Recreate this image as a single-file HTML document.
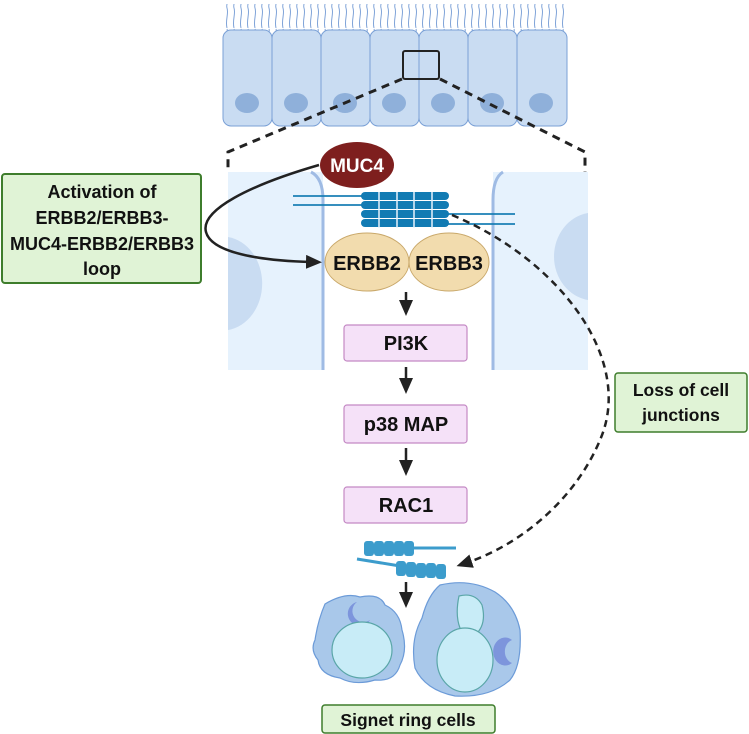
<!DOCTYPE html>
<html><head><style>
body{margin:0;background:#fff;}
svg{display:block;font-family:"Liberation Sans",sans-serif;font-weight:bold;}
</style></head><body>
<svg width="749" height="734" viewBox="0 0 749 734" xmlns="http://www.w3.org/2000/svg">
<defs>
<marker id="ah" markerWidth="16" markerHeight="14" refX="6" refY="7" orient="auto" markerUnits="userSpaceOnUse"><path d="M0,0 L16,7 L0,14 Z" fill="#222"/></marker>
<pattern id="cil" width="7" height="28" patternUnits="userSpaceOnUse"><path d="M3,28 C1,20 5,14 3,8 C2,5 4,3 3,1" stroke="#7fa3d8" stroke-width="1" fill="none"/></pattern>
</defs>
<rect x="223" y="4" width="344" height="28" fill="url(#cil)"/>
<g fill="#c9dcf2" stroke="#7aa0d6" stroke-width="1">
<rect x="223" y="30" width="49" height="96" rx="8"/>
<rect x="272" y="30" width="49" height="96" rx="8"/>
<rect x="321" y="30" width="49" height="96" rx="8"/>
<rect x="370" y="30" width="49" height="96" rx="8"/>
<rect x="419" y="30" width="49" height="96" rx="8"/>
<rect x="468" y="30" width="49" height="96" rx="8"/>
<rect x="517" y="30" width="50" height="96" rx="8"/>
</g>
<g fill="#8fb0da">
<ellipse cx="247" cy="103" rx="12" ry="10"/><ellipse cx="296" cy="103" rx="12" ry="10"/><ellipse cx="345" cy="103" rx="12" ry="10"/><ellipse cx="394" cy="103" rx="12" ry="10"/><ellipse cx="443" cy="103" rx="12" ry="10"/><ellipse cx="492" cy="103" rx="12" ry="10"/><ellipse cx="541" cy="103" rx="12" ry="10"/>
</g>
<rect x="403" y="51" width="36" height="28" fill="none" stroke="#222" stroke-width="2" rx="2"/>
<path d="M402,79 L228,152 L228,172 M440,79 L585,152 L585,172" stroke="#222" stroke-width="3" stroke-dasharray="8,6" fill="none"/>
<rect x="228" y="172" width="95" height="198" fill="#e6f2fd"/>
<rect x="493" y="172" width="95" height="198" fill="#e6f2fd"/>
<path d="M228,237 A40,47 0 0 1 228,330 Z" fill="#c9dcf2"/>
<path d="M588,213 A40,44 0 0 0 588,300 Z" fill="#c9dcf2"/>
<path d="M311,172 Q323,178 323,200 L323,370" stroke="#9fbbe4" stroke-width="3" fill="none"/>
<path d="M503,172 Q493,178 493,200 L493,370" stroke="#9fbbe4" stroke-width="3" fill="none"/>
<g stroke="#1a7fb5" stroke-width="1.8"><line x1="293" y1="196" x2="362" y2="196"/><line x1="293" y1="205" x2="362" y2="205"/><line x1="448" y1="214" x2="515" y2="214"/><line x1="448" y1="224" x2="515" y2="224"/></g>
<g fill="#127bb3">
<rect x="361" y="192" width="88" height="8" rx="4"/><rect x="361" y="201" width="88" height="8" rx="4"/><rect x="361" y="210" width="88" height="8" rx="4"/><rect x="361" y="219" width="88" height="8" rx="4"/>
</g>
<g stroke="#e6f2fd" stroke-width="1.5"><line x1="379" y1="192" x2="379" y2="228"/><line x1="397" y1="192" x2="397" y2="228"/><line x1="414" y1="192" x2="414" y2="228"/><line x1="432" y1="192" x2="432" y2="228"/></g>
<ellipse cx="357" cy="165" rx="37" ry="23" fill="#7e1f1e"/>
<text x="357" y="172" font-size="19" fill="#fff" text-anchor="middle">MUC4</text>
<ellipse cx="367" cy="262" rx="42" ry="29" fill="#f2dcae" stroke="#c9a86a"/>
<ellipse cx="449" cy="262" rx="40" ry="29" fill="#f2dcae" stroke="#c9a86a"/>
<text x="367" y="270" font-size="20" fill="#111" text-anchor="middle">ERBB2</text>
<text x="449" y="270" font-size="20" fill="#111" text-anchor="middle">ERBB3</text>
<path d="M319,165 C250,185 200,210 206,232 C212,255 270,261 312,262" stroke="#222" stroke-width="2.5" fill="none" marker-end="url(#ah)"/>
<rect x="2" y="174" width="199" height="109" rx="3" fill="#e0f3d6" stroke="#3e7d2c" stroke-width="2"/>
<g font-size="18" fill="#111" text-anchor="middle">
<text x="102" y="198">Activation of</text>
<text x="102" y="224">ERBB2/ERBB3-</text>
<text x="102" y="250">MUC4-ERBB2/ERBB3</text>
<text x="102" y="275">loop</text>
</g>
<g stroke="#222" stroke-width="2.5">
<line x1="406" y1="292" x2="406" y2="306" marker-end="url(#ah)"/>
<line x1="406" y1="367" x2="406" y2="384" marker-end="url(#ah)"/>
<line x1="406" y1="448" x2="406" y2="466" marker-end="url(#ah)"/>
<line x1="406" y1="582" x2="406" y2="598" marker-end="url(#ah)"/>
</g>
<g fill="#f5e1f8" stroke="#c489c4" stroke-width="1.2">
<rect x="344" y="325" width="123" height="36" rx="3"/>
<rect x="344" y="405" width="123" height="38" rx="3"/>
<rect x="344" y="487" width="123" height="36" rx="3"/>
</g>
<g font-size="20" fill="#111" text-anchor="middle">
<text x="406" y="350">PI3K</text>
<text x="406" y="431">p38 MAP</text>
<text x="406" y="512">RAC1</text>
</g>
<rect x="615" y="373" width="132" height="59" rx="3" fill="#e0f3d6" stroke="#3e7d2c" stroke-width="1.5"/>
<text x="681" y="396" font-size="17.5" fill="#111" text-anchor="middle">Loss of cell</text>
<text x="681" y="421" font-size="17.5" fill="#111" text-anchor="middle">junctions</text>
<path d="M452,215 C560,260 635,360 600,440 C575,500 520,545 466,563" stroke="#222" stroke-width="2.5" stroke-dasharray="7,5" fill="none" marker-end="url(#ah)"/>
<line x1="412" y1="548" x2="456" y2="548" stroke="#3c9ccc" stroke-width="3"/>
<line x1="357" y1="559" x2="400" y2="566" stroke="#3c9ccc" stroke-width="3"/>
<g fill="#3c9ccc">
<rect x="364" y="541" width="10" height="15" rx="3"/><rect x="374" y="541" width="10" height="15" rx="3"/><rect x="384" y="541" width="10" height="15" rx="3"/><rect x="394" y="541" width="10" height="15" rx="3"/><rect x="404" y="541" width="10" height="15" rx="3"/>
<rect x="396" y="561" width="10" height="15" rx="3"/><rect x="406" y="562" width="10" height="15" rx="3"/><rect x="416" y="563" width="10" height="15" rx="3"/><rect x="426" y="563" width="10" height="15" rx="3"/><rect x="436" y="564" width="10" height="15" rx="3"/>
</g>
<path d="M325,604 Q345,592 360,597 Q380,593 385,605 Q400,612 402,630 Q408,650 400,665 Q395,682 375,680 Q355,686 340,678 Q320,675 318,660 Q310,650 315,640 Q318,620 325,604 Z" fill="#a9c8ea" stroke="#6c9bd8" stroke-width="1.2"/>
<path d="M357,602 A12,12 0 1 0 370,620 A10,10 0 0 1 357,602 Z" fill="#7d95dc"/>
<ellipse cx="362" cy="650" rx="30" ry="28" fill="#c8ecf7" stroke="#5aa6a8" stroke-width="1.2"/>
<path d="M440,585 Q470,578 495,592 Q515,605 520,630 Q522,665 510,680 Q490,698 455,696 Q425,690 415,668 Q410,640 422,618 Q428,595 440,585 Z" fill="#a9c8ea" stroke="#6c9bd8" stroke-width="1.2"/>
<path d="M459,596 Q475,592 482,605 Q487,625 475,635 Q465,640 460,628 Q455,615 459,596 Z" fill="#c8ecf7" stroke="#5aa6a8" stroke-width="1.2"/>
<ellipse cx="465" cy="660" rx="28" ry="32" fill="#c8ecf7" stroke="#5aa6a8" stroke-width="1.2"/>
<path d="M512,640 A12,14 0 1 0 512,663 A10,12 0 0 1 512,640 Z" fill="#7d95dc"/>
<rect x="322" y="705" width="173" height="28" rx="3" fill="#e0f3d6" stroke="#3e7d2c" stroke-width="1.5"/>
<text x="408" y="726" font-size="17.5" fill="#111" text-anchor="middle">Signet ring cells</text>
</svg>
</body></html>
